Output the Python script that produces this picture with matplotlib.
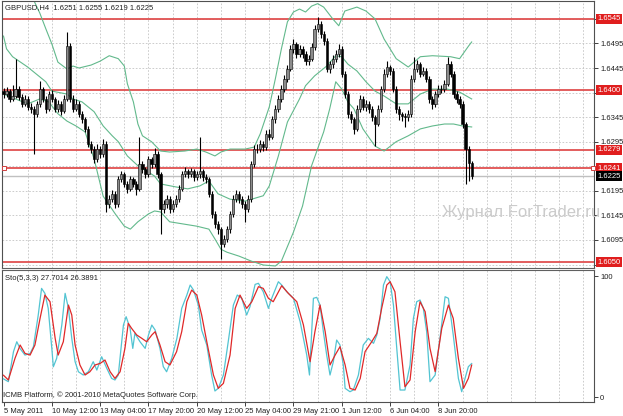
import matplotlib.pyplot as plt
from matplotlib.transforms import blended_transform_factory

plt.rcParams['font.family'] = ['Liberation Sans', 'DejaVu Sans']

# GBPUSD H4 bars
first_open = 1.6398
closes = [
    1.6392, 1.6398, 1.6382, 1.6388, 1.6402, 1.6386, 1.6372, 1.6382, 1.6366, 1.6362,
    1.6352, 1.6372, 1.6402, 1.6382, 1.6362, 1.6392, 1.6382, 1.6362, 1.6372, 1.6358,
    1.6382, 1.6490, 1.6382, 1.6362, 1.6372, 1.6352, 1.6341, 1.6321, 1.6290, 1.6280,
    1.6260, 1.6280, 1.6270, 1.6290, 1.6168, 1.6178, 1.6189, 1.6168, 1.6219, 1.6229,
    1.6209, 1.6199, 1.6219, 1.6209, 1.6199, 1.6250, 1.6239, 1.6229, 1.6260, 1.6250,
    1.6270, 1.6229, 1.6158, 1.6168, 1.6178, 1.6158, 1.6168, 1.6178, 1.6199, 1.6229,
    1.6235, 1.6229, 1.6235, 1.6223, 1.6229, 1.6235, 1.6223, 1.6219, 1.6189, 1.6148,
    1.6127, 1.6117, 1.6087, 1.6097, 1.6117, 1.6148, 1.6178, 1.6189, 1.6178, 1.6168,
    1.6158, 1.6178, 1.6250, 1.6280, 1.6280, 1.6290, 1.6284, 1.6311, 1.6305, 1.6341,
    1.6362, 1.6382, 1.6402, 1.6423, 1.6443, 1.6484, 1.6494, 1.6474, 1.6484, 1.6474,
    1.6459, 1.6464, 1.6488, 1.6525, 1.6535, 1.6514, 1.6500, 1.6443, 1.6453, 1.6464,
    1.6474, 1.6484, 1.6433, 1.6392, 1.6352, 1.6341, 1.6321, 1.6362, 1.6382, 1.6366,
    1.6372, 1.6362, 1.6345, 1.6331, 1.6362, 1.6402, 1.6433, 1.6447, 1.6439, 1.6402,
    1.6362, 1.6352, 1.6347, 1.6345, 1.6352, 1.6423, 1.6443, 1.6453, 1.6433, 1.6439,
    1.6423, 1.6382, 1.6372, 1.6392, 1.6402, 1.6402, 1.6413, 1.6453, 1.6433, 1.6392,
    1.6382, 1.6372, 1.6331, 1.6280, 1.6251, 1.6225]
highs = [
    1.6404, 1.6406, 1.6403, 1.6410, 1.6464, 1.6408, 1.6392, 1.6390, 1.6388, 1.6374,
    1.6368, 1.6378, 1.6419, 1.6406, 1.6388, 1.6398, 1.6400, 1.6386, 1.6380, 1.6378,
    1.6390, 1.6519, 1.6496, 1.6390, 1.6382, 1.6378, 1.6358, 1.6346, 1.6326, 1.6296,
    1.6286, 1.6290, 1.6286, 1.6300, 1.6296, 1.6186, 1.6196, 1.6194, 1.6226, 1.6236,
    1.6234, 1.6214, 1.6226, 1.6224, 1.6214, 1.6305, 1.6256, 1.6244, 1.6266, 1.6264,
    1.6282, 1.6276, 1.6234, 1.6176, 1.6186, 1.6184, 1.6176, 1.6186, 1.6206, 1.6236,
    1.6244, 1.6240, 1.6242, 1.6240, 1.6236, 1.6305, 1.6240, 1.6230, 1.6224, 1.6194,
    1.6154, 1.6134, 1.6122, 1.6106, 1.6124, 1.6154, 1.6186, 1.6196, 1.6194, 1.6184,
    1.6174, 1.6186, 1.6256, 1.6288, 1.6290, 1.6298, 1.6296, 1.6318, 1.6320, 1.6348,
    1.6370, 1.6390, 1.6410, 1.6430, 1.6452, 1.6492, 1.6504, 1.6498, 1.6492, 1.6490,
    1.6480, 1.6472, 1.6496, 1.6532, 1.6549, 1.6540, 1.6520, 1.6506, 1.6460, 1.6472,
    1.6482, 1.6494, 1.6490, 1.6438, 1.6398, 1.6358, 1.6346, 1.6370, 1.6390, 1.6388,
    1.6380, 1.6378, 1.6368, 1.6350, 1.6370, 1.6408, 1.6442, 1.6459, 1.6452, 1.6444,
    1.6408, 1.6368, 1.6356, 1.6354, 1.6360, 1.6430, 1.6468, 1.6462, 1.6458, 1.6448,
    1.6444, 1.6428, 1.6388, 1.6398, 1.6410, 1.6410, 1.6420, 1.6468, 1.6460, 1.6438,
    1.6398, 1.6388, 1.6378, 1.6336, 1.6286, 1.6255]
lows = [
    1.6384, 1.6386, 1.6376, 1.6378, 1.6384, 1.6380, 1.6366, 1.6368, 1.6360, 1.6354,
    1.6270, 1.6346, 1.6366, 1.6376, 1.6354, 1.6358, 1.6376, 1.6356, 1.6356, 1.6350,
    1.6354, 1.6378, 1.6376, 1.6356, 1.6358, 1.6346, 1.6334, 1.6314, 1.6284, 1.6272,
    1.6252, 1.6254, 1.6262, 1.6264, 1.6152, 1.6160, 1.6172, 1.6160, 1.6162, 1.6212,
    1.6202, 1.6190, 1.6194, 1.6202, 1.6186, 1.6194, 1.6232, 1.6222, 1.6224, 1.6242,
    1.6244, 1.6222, 1.6107, 1.6150, 1.6160, 1.6150, 1.6152, 1.6162, 1.6172, 1.6194,
    1.6224, 1.6222, 1.6224, 1.6216, 1.6218, 1.6222, 1.6216, 1.6210, 1.6182, 1.6140,
    1.6120, 1.6108, 1.6056, 1.6080, 1.6090, 1.6110, 1.6142, 1.6172, 1.6170, 1.6160,
    1.6132, 1.6152, 1.6172, 1.6244, 1.6272, 1.6274, 1.6276, 1.6278, 1.6298, 1.6300,
    1.6334, 1.6356, 1.6376, 1.6396, 1.6416, 1.6438, 1.6476, 1.6466, 1.6468, 1.6466,
    1.6452, 1.6452, 1.6460, 1.6482, 1.6518, 1.6506, 1.6492, 1.6436, 1.6434, 1.6446,
    1.6458, 1.6468, 1.6426, 1.6384, 1.6344, 1.6334, 1.6310, 1.6316, 1.6356, 1.6360,
    1.6358, 1.6354, 1.6338, 1.6286, 1.6326, 1.6356, 1.6396, 1.6426, 1.6430, 1.6396,
    1.6354, 1.6340, 1.6338, 1.6325, 1.6338, 1.6346, 1.6416, 1.6436, 1.6426, 1.6428,
    1.6416, 1.6374, 1.6362, 1.6366, 1.6386, 1.6394, 1.6396, 1.6408, 1.6426, 1.6384,
    1.6374, 1.6364, 1.6322, 1.6208, 1.6216, 1.6219]

# Bollinger bands (bar index, price)
bb_up_idx = [0, 5, 10, 12, 14, 16, 18, 21, 23, 25, 29, 32, 35, 38, 40, 41, 43, 44.5, 46, 49,
             52, 55, 60, 64, 67, 70, 72, 75, 78, 80, 83, 85, 88, 90, 92, 94, 96, 98, 100,
             102, 104, 106, 109, 111, 113, 117, 120, 123, 126, 130, 134, 138, 142, 148,
             151, 154, 155]
bb_up = [1.6640, 1.6612, 1.6583, 1.6557, 1.6525, 1.6494, 1.6457, 1.6443, 1.6449, 1.6445,
         1.6451, 1.6459, 1.6470, 1.6464, 1.6449, 1.6413, 1.6376, 1.6331, 1.6307, 1.6295,
         1.6276, 1.6274, 1.6276, 1.6280, 1.6274, 1.6266, 1.6274, 1.6280, 1.6280, 1.6280,
         1.6284, 1.6311, 1.6366, 1.6423, 1.6484, 1.6539, 1.6559, 1.6565, 1.6559, 1.6571,
         1.6576, 1.6569, 1.6545, 1.6531, 1.6561, 1.6569, 1.6561, 1.6545, 1.6504, 1.6464,
         1.6447, 1.6468, 1.6470, 1.6468, 1.6464, 1.6490, 1.6498]
bb_mid_idx = [0, 1, 3, 8, 12, 14, 16, 21, 23, 26, 30, 33, 36, 38, 41, 44.5, 48, 50, 52, 57,
              61, 65, 68, 71, 75, 80, 86, 88, 91, 94, 98, 100, 103, 107, 110, 112, 114, 117,
              120, 123, 126, 130, 134, 138, 142, 147, 151, 155]
bb_mid = [1.6510, 1.6484, 1.6468, 1.6447, 1.6427, 1.6417, 1.6398, 1.6392, 1.6382, 1.6376,
          1.6356, 1.6327, 1.6307, 1.6295, 1.6266, 1.6246, 1.6233, 1.6225, 1.6209, 1.6203,
          1.6199, 1.6205, 1.6215, 1.6189, 1.6178, 1.6174, 1.6185, 1.6205, 1.6266, 1.6335,
          1.6382, 1.6409, 1.6429, 1.6449, 1.6470, 1.6468, 1.6453, 1.6439, 1.6417, 1.6398,
          1.6388, 1.6372, 1.6372, 1.6392, 1.6402, 1.6402, 1.6396, 1.6382]
bb_low_idx = [0, 4, 8, 12, 15, 18, 21, 24, 27, 30, 33, 37, 40, 42, 44.5, 48, 50, 52, 55, 60,
              64, 68, 70, 72, 74, 78, 82, 86, 90, 92, 96, 99, 102, 106, 108, 110, 112, 114,
              116, 119, 123, 126, 130, 134, 138, 142, 146, 149, 152, 155]
bb_low = [1.6392, 1.6382, 1.6372, 1.6382, 1.6376, 1.6352, 1.6337, 1.6327, 1.6315, 1.6260,
          1.6184, 1.6148, 1.6123, 1.6117, 1.6132, 1.6148, 1.6154, 1.6152, 1.6132, 1.6127,
          1.6123, 1.6117, 1.6097, 1.6076, 1.6070, 1.6062, 1.6052, 1.6044, 1.6042, 1.6052,
          1.6111, 1.6164, 1.6246, 1.6315, 1.6362, 1.6417, 1.6402, 1.6376, 1.6362, 1.6321,
          1.6286, 1.6276, 1.6295, 1.6307, 1.6321, 1.6327, 1.6331, 1.6331, 1.6327, 1.6325]

# Stochastic (5,3,3)
sto_main_idx = [0, 1.6, 3.3, 4.4, 5.5, 7.1, 8.8, 9.9, 11.5, 12.6, 13.7, 14.8, 16, 16.5, 17.6,
                19.3, 20.4, 21.5, 22.6, 23.7, 24.8, 26.4, 28.1, 29.7, 30.9, 32.5, 34.2, 35.8,
                36.9, 38, 39.7, 40.6, 41.9, 42.8, 43.5, 45.2, 46.9, 48, 49.1, 50.2, 51.8, 52.9,
                54, 55.7, 57.4, 59, 60.7, 61.8, 62.9, 64.5, 65.6, 67.3, 68.9, 70, 71.1, 72.8,
                74.4, 76.1, 77.4, 78.9, 80.5, 81.6, 83.3, 84.4, 86, 87.7, 88.8, 91, 92.1, 93.8,
                96, 98.2, 100.4, 101.3, 102.6, 103.7, 104.8, 105.9, 107, 108.1, 109.2, 110.3,
                111.4, 112.5, 113.1, 114.7, 115.8, 117.5, 119.1, 120.8, 122.5, 123.6, 124.7,
                125.8, 126.9, 128, 129.1, 130.2, 131.3, 132.9, 134.6, 135.7, 136.8, 137.9, 139,
                140.1, 141.2, 142.9, 144.5, 146.2, 147.3, 148.9, 150.6, 151.7, 152.8, 153.9, 155]
sto_main = [15, 12.7, 37.5, 45.7, 40, 34.7, 36, 41.6, 67.8, 89.8, 85.7, 73.3, 40, 25, 32,
            59.5, 85.7, 73.3, 48.5, 29.2, 20.9, 18.2, 20.9, 29.2, 22.3, 33.3, 23.7, 15.4,
            14.1, 18.2, 59.5, 66.4, 56.8, 40.2, 52.6, 45.7, 40.2, 51.3, 59.5, 55.4, 40.2, 25.1,
            20.9, 32, 48.5, 73.3, 84.3, 92.6, 88.4, 76, 55.4, 43, 18.2, 5, 7.2, 18.2,
            45.7, 76, 84.3, 81.6, 67.8, 74.7, 93.1, 94, 87, 73.3, 81.6, 95.3, 92.6, 87,
            81.6, 62.3, 34.7, 18.2, 81.6, 82.4, 76, 54, 34.7, 18.2, 29.2, 47.1,
            43, 26.5, 7.2, 4.4, 5.8, 18.2, 43, 48.5, 44.4, 51.3, 65,
            92.6, 99.5, 95.3, 76, 40.2, 5.8, 5.8, 26.5, 65, 78.8, 80.2, 73.3,
            54, 12.7, 18.2, 48.5, 82.9, 81.6, 51.3, 15.4, 4.4, 15.4, 25.1, 27.7]
sto_sig_idx = [0, 1.6, 3.8, 5.5, 7.1, 8.8, 10.4, 12.1, 13.7, 15.4, 17.1, 18.1, 19.8, 21.5,
               22.6, 23.7, 25.3, 27, 28.6, 30.3, 32, 33.6, 35.3, 36.9, 38.6, 40.2, 41.3, 42.4,
               44.1, 45.8, 47.4, 49.1, 50.2, 51.8, 53.5, 55.1, 57.3, 59, 60.7, 62.3, 64, 65.6,
               67.3, 69.5, 71.1, 72.8, 75, 76.7, 78.3, 80.5, 82.2, 84.4, 86, 87.7, 89.3, 92.1,
               94.3, 97.1, 99.3, 101.5, 103.1, 104.8, 106.5, 108.1, 109.8, 111.4, 113.1, 114.7,
               116.4, 118.1, 119.7, 121.9, 123.6, 125.2, 126.9, 128, 129.6, 131.3, 132.9, 134.6,
               136.3, 137.9, 139.6, 141.2, 142.9, 145.1, 147.3, 148.9, 150.6, 152.3, 153.9, 155]
sto_sig = [18, 14.1, 32, 43, 36.1, 34.7, 43, 65, 84.3, 78.8, 48.5, 34.7, 45.7, 76,
           67.8, 43, 26.5, 18.2, 20.9, 26.5, 27.8, 30.6, 20.9, 15.4, 20.9, 40.2, 60.9, 56.8,
           51.3, 48.5, 45.7, 51.3, 54, 43, 29.2, 26.5, 37.5, 54, 78.8, 88.4, 84.3, 67.8,
           45.7, 18.2, 7.2, 11.3, 34.7, 73.3, 84.3, 73.3, 78.8, 91.2, 89.8, 81.6, 78.8, 92,
           85.7, 78.8, 59.5, 29.2, 54, 76, 54, 26.5, 34.7, 41.6, 26.5, 7.2,
           5.8, 15.4, 37.5, 45.7, 52.6, 73.3, 92.6, 95.3, 87, 45.7, 8.5, 14.1,
           54, 78.8, 70.5, 40.2, 21, 56.8, 76, 65, 32, 7.2, 15.4, 26.4]

levels = [1.6545, 1.6400, 1.6279, 1.6241, 1.6050]
level_labels = ['1.6545', '1.6400', '1.6279', '1.6241', '1.6050']
bid = 1.6225
price_ticks = [1.6545, 1.6495, 1.6445, 1.6395, 1.6345, 1.6295, 1.6245, 1.6195, 1.6145,
               1.6095, 1.6045]
price_tick_labels = ['', '1.6495', '1.6445', '', '1.6345', '1.6295', '', '1.6195', '1.6145',
                     '1.6095', '']
time_bars = [0, 16, 32, 48, 64, 80, 96, 112, 128, 144]
time_labels = ['5 May 2011', '10 May 12:00', '13 May 04:00', '17 May 20:00', '20 May 12:00',
               '25 May 04:00', '29 May 21:00', '1 Jun 12:00', '6 Jun 04:00', '8 Jun 20:00']

W, H = 623, 416
fig = plt.figure(figsize=(W / 100, H / 100), dpi=100)
ax = fig.add_axes([2 / W, 1 - 268 / H, 592 / W, 267 / H])
ax2 = fig.add_axes([2 / W, 1 - 402 / H, 592 / W, 132 / H])

grid_kw = dict(color='#c4c4c4', lw=0.6, ls=(0, (2, 2)), zorder=0)
for a in (ax, ax2):
    a.set_xlim(-0.5, 195.5)
    for b in range(8, 196, 8):
        a.axvline(b, **grid_kw)
    for s in a.spines.values():
        s.set_color('#505050')
        s.set_linewidth(0.8)
    a.yaxis.tick_right()
    a.tick_params(axis='y', length=3, width=0.6, pad=1.5, labelsize=5.5, colors='#202020')
ax.spines['bottom'].set_color('#606060')
ax2.spines['top'].set_color('#606060')

# price panel
ax.set_ylim(1.60379, 1.65814)
for p in price_ticks:
    ax.axhline(p, **grid_kw)
ax.set_yticks(price_ticks)
ax.set_yticklabels(price_tick_labels)
ax.set_xticks([])

ax.axhline(bid, color='#c0c0c0', lw=1.0, zorder=1)
for lv in levels:
    ax.axhline(lv, color='#e05050', lw=1.3, zorder=1)

bb_col = '#62b98c'
ax.plot(bb_up_idx, bb_up, color=bb_col, lw=0.8, zorder=2)
ax.plot(bb_mid_idx, bb_mid, color=bb_col, lw=0.8, zorder=2)
ax.plot(bb_low_idx, bb_low, color=bb_col, lw=0.8, zorder=2)

opens = [first_open] + closes[:-1]
xs = list(range(len(closes)))
ax.vlines(xs, lows, highs, color='black', lw=0.8, zorder=3)
bottoms = [min(o, c) for o, c in zip(opens, closes)]
heights = [max(abs(c - o), 0.00006) for o, c in zip(opens, closes)]
cols = ['#8c8c8c' if c >= o else 'black' for o, c in zip(opens, closes)]
ax.bar(xs, heights, 0.75, bottoms, color=cols, edgecolor='black', linewidth=0.4, zorder=4)

tr = blended_transform_factory(ax.transAxes, ax.transData)
for lv, lab in zip(levels, level_labels):
    ax.text(1.006, lv, lab, transform=tr, fontsize=5.5, color='white', va='center', ha='left',
            bbox=dict(boxstyle='square,pad=0.2', fc='#e01e1e', ec='none'), clip_on=False)
ax.text(1.006, bid, '1.6225', transform=tr, fontsize=5.5, color='white', va='center', ha='left',
        bbox=dict(boxstyle='square,pad=0.2', fc='black', ec='none'), clip_on=False)
ax.plot([0.003, 0.9985], [levels[3], levels[3]], transform=tr, ls='none', marker='s', ms=2.8,
        mfc='white', mec='#d04040', mew=0.7, clip_on=False, zorder=6)

# stochastic panel
ax2.set_ylim(-4.1, 105)
ax2.set_yticks([0, 100])
ax2.set_yticklabels(['0', '100'])
ax2.plot(sto_main_idx, sto_main, color='#52c4d2', lw=0.9, zorder=3)
ax2.plot(sto_sig_idx, sto_sig, color='#e02828', lw=0.9, zorder=4)
ax2.set_xticks(time_bars)
ax2.set_xticklabels(time_labels, ha='left')
ax2.tick_params(axis='x', length=3, width=0.6, pad=1.5, labelsize=5.5, colors='#202020')

fig.text(5 / W, 1 - 8 / H, 'GBPUSD,H4  1.6251 1.6255 1.6219 1.6225', fontsize=5.5,
         va='center', color='#202020')
fig.text(5 / W, 1 - 278 / H, 'Sto(5,3,3) 27.7014 26.3891', fontsize=5.5, va='center',
         color='#202020')
fig.text(3 / W, 1 - 395 / H, 'ICMB Platform, \u00a9 2001-2010 MetaQuotes Software Corp.',
         fontsize=5.5, va='center', color='#202020')
fig.text(442 / W, 1 - 213 / H, 'Журнал ForTrader.ru', fontsize=12, va='center',
         color='#cbcbcb', zorder=0)

fig.savefig('out.png', dpi=100, facecolor='white')
